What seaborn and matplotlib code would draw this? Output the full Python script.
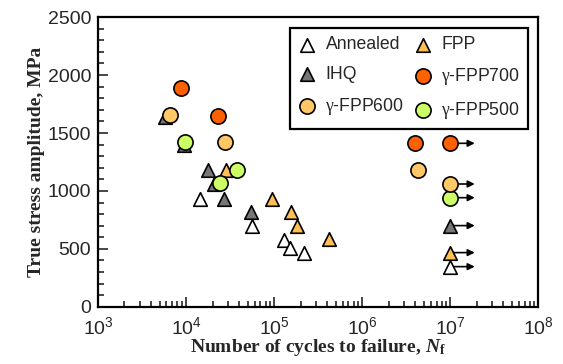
import numpy as np
import pandas as pd
import seaborn as sns
import matplotlib.pyplot as plt
from matplotlib.ticker import LogLocator, MultipleLocator, NullFormatter

# Cycles to failure (N_f) and true stress amplitude (MPa) per condition
annealed_n = [14600, 56300, 129000, 151000, 218000]
annealed_s = [928, 701, 578, 506, 463]
ihq_n = [5700, 9400, 18000, 20900, 26700, 54300]
ihq_s = [1640, 1400, 1181, 1058, 934, 822]
fpp_n = [28200, 94200, 155000, 183000, 424000]
fpp_s = [1180, 934, 822, 701, 586]
fpp700_n = [8750, 23100, 4.0e6]
fpp700_s = [1885, 1650, 1411]
fpp600_n = [6600, 27700, 4.3e6]
fpp600_s = [1655, 1420, 1181]
fpp500_n = [9620, 38300, 24500]
fpp500_s = [1420, 1180, 1066]

# Run-outs (no failure at 1e7 cycles)
runout_n = [1e7, 1e7, 1e7, 1e7, 1e7, 1e7]
runout_s = [1411, 1060, 942, 701, 468, 347]
runout_group = ['γ-FPP700', 'γ-FPP600', 'γ-FPP500', 'IHQ', 'FPP', 'Annealed']

styles = {
    'Annealed': ('^', 'white', 95),
    'IHQ': ('^', '#767676', 95),
    'γ-FPP600': ('o', '#FFC766', 120),
    'FPP': ('^', '#FFBF55', 95),
    'γ-FPP700': ('o', '#FF6000', 120),
    'γ-FPP500': ('o', '#CCFF66', 120),
}
series = {
    'Annealed': (annealed_n, annealed_s),
    'IHQ': (ihq_n, ihq_s),
    'γ-FPP600': (fpp600_n, fpp600_s),
    'FPP': (fpp_n, fpp_s),
    'γ-FPP700': (fpp700_n, fpp700_s),
    'γ-FPP500': (fpp500_n, fpp500_s),
}

sns.set_style('white')
plt.rcParams['font.family'] = ['Liberation Sans', 'DejaVu Sans']
plt.rcParams['mathtext.fontset'] = 'custom'
plt.rcParams['mathtext.rm'] = 'Liberation Serif'
plt.rcParams['mathtext.it'] = 'Liberation Serif:italic'
plt.rcParams['mathtext.bf'] = 'Liberation Serif:bold'
plt.rcParams['mathtext.bfit'] = 'Liberation Serif:bold:italic'


def leg_label(name):
    # gamma in the legend is drawn in a serif face
    return name.replace('γ', '$\\mathrm{\\gamma}$')


fig = plt.figure(figsize=(5.63, 3.64), dpi=100)
ax = fig.add_axes([0.174, 0.157, 0.782, 0.796])

# arrows for run-outs, drawn under the markers
for n, s in zip(runout_n, runout_s):
    ax.annotate('', xy=(n * 1.9, s), xytext=(n, s),
                arrowprops=dict(arrowstyle='-|>', color='black', lw=1.2,
                                mutation_scale=10, shrinkA=0, shrinkB=0),
                zorder=1)

for name, (xs, ys) in series.items():
    m, c, size = styles[name]
    sns.scatterplot(x=xs, y=ys, marker=m, color=c, edgecolor='black',
                    linewidth=1.2, s=size, ax=ax, zorder=3, label=leg_label(name))

ro = pd.DataFrame({'n': runout_n, 's': runout_s, 'g': runout_group})
for name, sub in ro.groupby('g'):
    m, c, size = styles[name]
    sns.scatterplot(x=sub['n'], y=sub['s'], marker=m, color=c, edgecolor='black',
                    linewidth=1.2, s=size, ax=ax, zorder=3)

ax.set_xscale('log')
ax.set_xlim(1e3, 1e8)
ax.set_ylim(0, 2500)
ax.yaxis.set_major_locator(MultipleLocator(500))
ax.yaxis.set_minor_locator(MultipleLocator(100))
ax.xaxis.set_major_locator(LogLocator(base=10, numticks=10))
ax.xaxis.set_minor_locator(LogLocator(base=10, subs=np.arange(2, 10), numticks=20))
ax.xaxis.set_minor_formatter(NullFormatter())
ax.tick_params(which='both', direction='in', bottom=True, left=True,
               top=False, right=False, labelsize=14, width=1.2)
ax.tick_params(axis='x', which='major', pad=7)
ax.tick_params(axis='y', which='major', pad=5)
ax.tick_params(which='major', length=7)
ax.tick_params(which='minor', length=4)
for sp in ax.spines.values():
    sp.set_linewidth(1.6)
    sp.set_color('black')

ax.set_xlabel('Number of cycles to failure, $\\mathbfit{N}_\\mathbf{f}$',
              family='Liberation Serif', fontweight='bold', fontsize=14, labelpad=-1)
ax.set_ylabel('True stress amplitude, MPa', family='Liberation Serif',
              fontweight='bold', fontsize=14, labelpad=2)

leg = ax.legend(loc='upper right', ncol=2, fontsize=12.7, frameon=True,
                fancybox=False, edgecolor='black', borderpad=0.45,
                handletextpad=0.55, columnspacing=0.55, labelspacing=0.72,
                handlelength=1.0, bbox_to_anchor=(0.997, 0.992))
leg.get_frame().set_linewidth(1.6)
leg.get_frame().set_alpha(1)

fig.savefig('out.png', dpi=100)
